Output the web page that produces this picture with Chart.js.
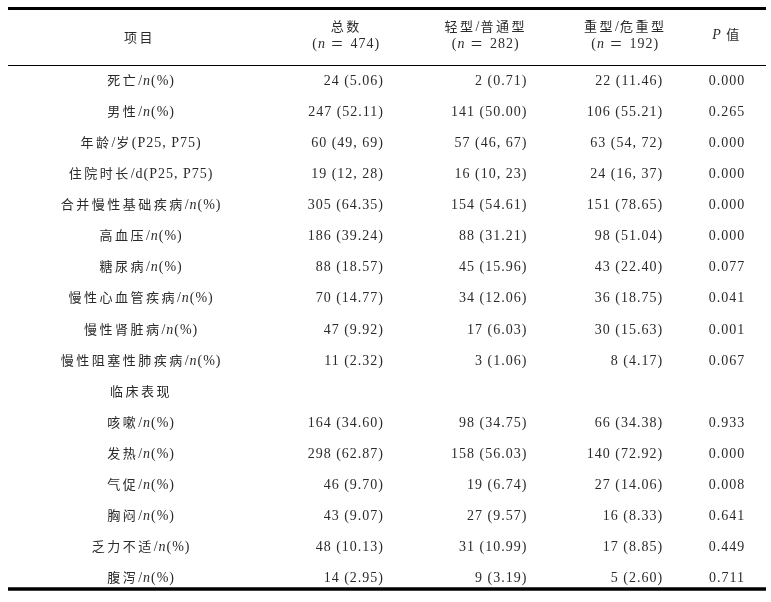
<!DOCTYPE html>
<html>
<head>
<meta charset="utf-8">
<script src="https://cdn.jsdelivr.net/npm/chart.js@4.4.0/dist/chart.umd.min.js"></script>
<style>
  html, body { margin: 0; padding: 0; background: #fff; }
  #wrap { width: 771px; height: 602px; }
</style>
</head>
<body>
<div id="wrap"><canvas id="tableChart"></canvas></div>
<script>
// table content
const headers = ['项目', ['总数', '(n ＝ 474)'], ['轻型/普通型', '(n ＝ 282)'], ['重型/危重型', '(n ＝ 192)'], 'P 值'];
const items = ['死亡/n(%)', '男性/n(%)', '年龄/岁(P25, P75)', '住院时长/d(P25, P75)', '合并慢性基础疾病/n(%)',
  '高血压/n(%)', '糖尿病/n(%)', '慢性心血管疾病/n(%)', '慢性肾脏病/n(%)', '慢性阻塞性肺疾病/n(%)',
  '临床表现', '咳嗽/n(%)', '发热/n(%)', '气促/n(%)', '胸闷/n(%)', '乏力不适/n(%)', '腹泻/n(%)'];
const totalCol = ['24 (5.06)', '247 (52.11)', '60 (49, 69)', '19 (12, 28)', '305 (64.35)', '186 (39.24)', '88 (18.57)',
  '70 (14.77)', '47 (9.92)', '11 (2.32)', '', '164 (34.60)', '298 (62.87)', '46 (9.70)', '43 (9.07)', '48 (10.13)', '14 (2.95)'];
const mildCol = ['2 (0.71)', '141 (50.00)', '57 (46, 67)', '16 (10, 23)', '154 (54.61)', '88 (31.21)', '45 (15.96)',
  '34 (12.06)', '17 (6.03)', '3 (1.06)', '', '98 (34.75)', '158 (56.03)', '19 (6.74)', '27 (9.57)', '31 (10.99)', '9 (3.19)'];
const severeCol = ['22 (11.46)', '106 (55.21)', '63 (54, 72)', '24 (16, 37)', '151 (78.65)', '98 (51.04)', '43 (22.40)',
  '36 (18.75)', '30 (15.63)', '8 (4.17)', '', '66 (34.38)', '140 (72.92)', '27 (14.06)', '16 (8.33)', '17 (8.85)', '5 (2.60)'];
const pValues = ['0.000', '0.265', '0.000', '0.000', '0.000', '0.000', '0.077', '0.041', '0.001', '0.067',
  '', '0.933', '0.000', '0.008', '0.641', '0.449', '0.711'];

// column layout, in x-axis units (0-100 across the page)
const colAnchor = [18.3, 49.8, 68.4, 86.0, 94.3];
const colAlign = ['center', 'right', 'right', 'right', 'center'];
const headAnchor = [18.1, 44.9, 63.0, 81.1, 94.3];

const cjkFont = '13px "Noto Sans CJK SC"';
const latinFont = '14px "Liberation Serif"';
const italicFont = 'italic 14px "Liberation Serif"';
const textColor = '#2a2a2a';

// split a cell into runs: CJK / latin / italic n, P
function runs(text) {
  const out = [];
  for (let i = 0; i < text.length; i++) {
    const ch = text[i];
    let kind = /[\u3000-\u9fff\uff00-\uffef]/.test(ch) ? 'cjk' : 'latin';
    if (ch === 'n' && (text[i - 1] === '/' || text[i - 1] === '(')) kind = 'italic';
    if (ch === 'P' && text[i + 1] === ' ') kind = 'italic';
    if (out.length && out[out.length - 1].kind === kind) out[out.length - 1].s += ch;
    else out.push({ kind: kind, s: ch });
  }
  return out;
}

function setRun(ctx, kind) {
  if (kind === 'cjk') { ctx.font = cjkFont; ctx.letterSpacing = '2.5px'; }
  else if (kind === 'italic') { ctx.font = italicFont; ctx.letterSpacing = '1px'; }
  else { ctx.font = latinFont; ctx.letterSpacing = '1px'; }
}

function drawCell(ctx, text, x, y, align) {
  if (!text) return;
  const parts = runs(text);
  let w = 0;
  parts.forEach(p => { setRun(ctx, p.kind); p.w = ctx.measureText(p.s).width; w += p.w; });
  let cx = align === 'right' ? x - w : align === 'center' ? x - w / 2 : x;
  ctx.textAlign = 'left';
  ctx.textBaseline = 'alphabetic';
  ctx.fillStyle = textColor;
  parts.forEach(p => { setRun(ctx, p.kind); ctx.fillText(p.s, cx, y + 5); cx += p.w; });
}

const tablePlugin = {
  id: 'tableCells',
  afterDatasetsDraw(chart) {
    const { ctx, chartArea, scales: { x } } = chart;
    ctx.save();
    chart.data.datasets.forEach((ds, di) => {
      chart.getDatasetMeta(di).data.forEach((pt, i) => drawCell(ctx, ds.cellText[i], pt.x, pt.y, ds.align));
    });
    // header row
    const hy = chartArea.top - 45;
    headers.forEach((h, i) => {
      const hx = x.getPixelForValue(headAnchor[i]);
      if (Array.isArray(h)) {
        drawCell(ctx, h[0], hx, hy - 9, 'center');
        drawCell(ctx, h[1], hx, hy + 8, 'center');
      } else {
        drawCell(ctx, h, hx, hy + (i === 0 ? 2 : -1), 'center');
      }
    });
    // rules
    const l = 8, r = chart.width - 5;
    ctx.strokeStyle = '#000';
    ctx.lineWidth = 3;
    ctx.beginPath(); ctx.moveTo(l, chartArea.top - 71.5); ctx.lineTo(r, chartArea.top - 71.5); ctx.stroke();
    ctx.lineWidth = 1;
    ctx.beginPath(); ctx.moveTo(l, chartArea.top - 14.5); ctx.lineTo(r, chartArea.top - 14.5); ctx.stroke();
    ctx.lineWidth = 3.5;
    ctx.beginPath(); ctx.moveTo(l, chartArea.bottom + 12); ctx.lineTo(r, chartArea.bottom + 12); ctx.stroke();
    ctx.restore();
  }
};

function column(values, c) {
  return {
    data: items.map(it => ({ x: colAnchor[c], y: it })),
    cellText: values,
    align: colAlign[c],
    pointRadius: 0,
    pointHoverRadius: 0
  };
}

new Chart(document.getElementById('tableChart'), {
  type: 'scatter',
  data: {
    datasets: [
      column(items, 0),
      column(totalCol, 1),
      column(mildCol, 2),
      column(severeCol, 3),
      column(pValues, 4)
    ]
  },
  options: {
    responsive: true,
    maintainAspectRatio: false,
    animation: false,
    events: [],
    layout: { padding: { top: 80, bottom: 25, left: 0, right: 0 } },
    plugins: { legend: { display: false }, tooltip: { enabled: false } },
    scales: {
      x: { type: 'linear', min: 0, max: 100, display: false },
      y: { type: 'category', labels: items, offset: false, display: false }
    }
  },
  plugins: [tablePlugin]
});
</script>
</body>
</html>
